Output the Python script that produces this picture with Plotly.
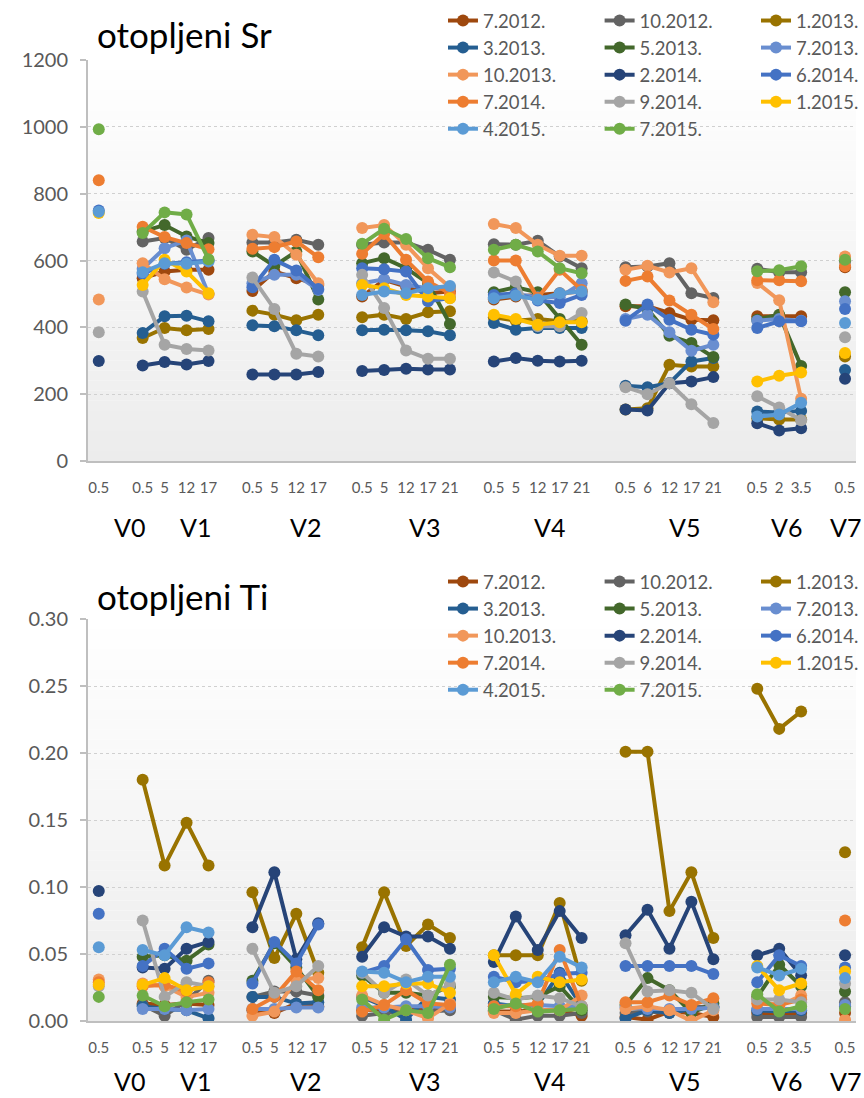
import plotly.graph_objects as go

# ---- categories -------------------------------------------------------------
GROUPS = ["V0", "V1", "V2", "V3", "V4", "V5", "V6", "V7"]
DEPTHS = [
    ["0.5"],
    ["0.5", "5", "12", "17"],
    ["0.5", "5", "12", "17"],
    ["0.5", "5", "12", "17", "21"],
    ["0.5", "5", "12", "17", "21"],
    ["0.5", "6", "12", "17", "21"],
    ["0.5", "2", "3.5"],
    ["0.5"],
]

SERIES = ["7.2012.", "10.2012.", "1.2013.", "3.2013.", "5.2013.", "7.2013.",
          "10.2013.", "2.2014.", "6.2014.", "7.2014.", "9.2014.", "1.2015.",
          "4.2015.", "7.2015."]
COLORS = ["#9E480E", "#636363", "#997300", "#255E91", "#43682B", "#698ED0",
          "#F1975A", "#264478", "#4472C4", "#ED7D31", "#A5A5A5", "#FFC000",
          "#5B9BD5", "#70AD47"]

N = None

# ---- dissolved Sr, one list per sampling campaign (grouped V0..V7) ----------
sr_2012_07 = [[N], [547, 567, 572, 572], [509, 567, 547, 527], [492, 542, 522, 502, 507],
              [483, 492, 497, 502, 507], [463, 463, 443, 423, 421], [433, 433, 433], [580]]
sr_2012_10 = [[N], [657, 667, 632, 667], [654, 654, 662, 647], [647, 654, 654, 632, 602],
              [649, 647, 659, 612, 577], [580, 582, 592, 502, 488], [575, 565, 565], [598]]
sr_2013_01 = [[N], [368, 398, 391, 395], [450, 438, 421, 438], [430, 438, 425, 445, 448],
              [430, 420, 425, 418, 418], [154, 158, 288, 283, 283], [128, 124, 124], [313]]
sr_2013_03 = [[N], [383, 433, 435, 418], [406, 403, 391, 376], [391, 393, 391, 388, 376],
              [413, 393, 398, 398, 398], [225, 221, 233, 298, 308], [148, 145, 150], [272]]
sr_2013_05 = [[N], [687, 706, 672, 652], [627, 584, 627, 483], [592, 607, 577, 532, 410],
              [505, 520, 505, 425, 348], [468, 455, 375, 353, 311], [423, 438, 284], [505]]
sr_2013_07 = [[N], [575, 637, 660, 500], [532, 557, 557, 512], [532, 544, 527, 517, 517],
              [490, 500, 490, 490, 532], [425, 438, 385, 330, 348], [420, 425, 420], [478]]
sr_2013_10 = [[483], [592, 544, 519, 498], [677, 670, 617, 532], [697, 706, 647, 577, 520],
              [709, 697, 647, 614, 614], [572, 584, 564, 577, 475], [533, 481, 186], [612]]
sr_2014_02 = [[299], [286, 296, 289, 299], [259, 259, 259, 266], [269, 272, 276, 274, 274],
              [298, 308, 300, 298, 300], [154, 151, 233, 238, 251], [113, 91, 98], [246]]
sr_2014_06 = [[750], [560, 590, 595, 600], [520, 602, 570, 515], [577, 574, 567, 478, 488],
              [497, 502, 480, 473, 497], [420, 468, 423, 393, 378], [398, 418, 418], [455]]
sr_2014_07 = [[840], [701, 670, 652, 634], [635, 640, 657, 610], [620, 679, 602, 537, 502],
              [600, 600, 488, 572, 512], [539, 552, 480, 438, 395], [541, 541, 538], [583]]
sr_2014_09 = [[385], [507, 348, 335, 331], [549, 455, 321, 313], [557, 458, 331, 306, 306],
              [564, 537, 403, 403, 443], [221, 200, 233, 170, 114], [194, 160, 122], [370]]
sr_2015_01 = [[742], [527, 602, 567, 502], [N, N, N, N], [527, 517, 497, 492, 487],
              [438, 425, 408, 415, 415], [N, N, N, N, N], [238, 255, 265], [323]]
sr_2015_04 = [[746], [565, 592, 590, 597], [N, N, N, N], [497, 507, 502, 517, 524],
              [487, 495, 483, 502, 507], [N, N, N, N, N], [133, 139, 174], [413]]
sr_2015_07 = [[993], [682, 744, 738, 604], [N, N, N, N], [650, 695, 664, 607, 580],
              [632, 647, 627, 577, 562], [N, N, N, N, N], [568, 571, 583], [602]]

# ---- dissolved Ti -----------------------------------------------------------
ti_2012_07 = [[N], [.013, .012, .013, .012], [.008, .006, .013, .011], [.008, .009, .009, .009, .009],
              [.007, .007, .008, .008, .004], [.003, .001, .007, .006, .003], [.006, .006, .006], [.006]]
ti_2012_10 = [[N], [.012, .004, .015, .030], [.018, .022, .022, .019], [.004, .006, .007, .007, .008],
              [.008, .001, .004, .004, .006], [.006, .007, .006, .010, .011], [.003, .003, .003], [.014]]
ti_2013_01 = [[N], [.180, .116, .148, .116], [.096, .047, .080, .036], [.055, .096, .056, .072, .062],
              [.049, .049, .049, .088, .030], [.201, .201, .082, .111, .062], [.248, .218, .231], [.126]]
ti_2013_03 = [[N], [.011, .009, .008, .002], [.018, .018, .013, .014], [.018, .011, .001, .018, .016],
              [.013, .011, .012, .036, .011], [.002, .008, .006, .009, .010], [.008, .007, .008], [.011]]
ti_2013_05 = [[N], [.048, .049, .045, .057], [.030, .058, .040, .018], [.034, .021, .021, .019, .026],
              [.018, .017, .018, .026, .008], [.012, .032, .023, .006, .013], [.018, .042, .026], [.022]]
ti_2013_07 = [[N], [.009, .009, .008, .009], [.009, .009, .010, .010], [.010, .010, .011, .011, .010],
              [.011, .012, .012, .011, .010], [.010, .009, .009, .009, .010], [.009, .009, .009], [.012]]
ti_2013_10 = [[.031], [.028, .026, .018, .021], [.004, .007, .031, .032], [.019, .012, .008, .002, .013],
              [.006, .006, .008, .008, .019], [.009, .011, .008, .000, .008], [.016, .011, .019], [.001]]
ti_2014_02 = [[.097], [.040, .039, .054, .059], [.070, .111, .046, .073], [.048, .070, .063, .063, .054],
              [.044, .078, .053, .082, .062], [.064, .083, .054, .089, .046], [.049, .054, .034], [.049]]
ti_2014_06 = [[.080], [.041, .054, .039, .043], [.028, .059, .043, .072], [.036, .041, .061, .038, .039],
              [.033, .029, .030, .035, .036], [.041, .041, .041, .041, .035], [.029, .049, .041], [.040]]
ti_2014_07 = [[.029], [.026, .027, .022, .029], [.009, .018, .037, .023], [.007, .012, .023, .013, .012],
              [.011, .011, .013, .053, .011], [.014, .014, .019, .012, .017], [.013, .012, .016], [.075]]
ti_2014_09 = [[.026], [.075, .018, .029, .026], [.054, .021, .026, .041], [.036, .021, .031, .019, .027],
              [.021, .016, .019, .017, .011], [.058, .022, .023, .021, .009], [.016, .016, .014], [.028]]
ti_2015_01 = [[.027], [.027, .032, .023, .026], [N, N, N, N], [.026, .026, .028, .028, .021],
              [.049, .020, .033, .029, .031], [N, N, N, N, N], [.041, .023, .028], [.037]]
ti_2015_04 = [[.055], [.053, .049, .070, .066], [N, N, N, N], [.037, .036, .029, .033, .033],
              [.029, .033, .029, .048, .040], [N, N, N, N, N], [.040, .034, .039], [.032]]
ti_2015_07 = [[.018], [.019, .011, .014, .016], [N, N, N, N], [.016, .001, .008, .006, .042],
              [.009, .013, .007, .008, .009], [N, N, N, N, N], [.020, .007, .011], [.009]]

SR = [sr_2012_07, sr_2012_10, sr_2013_01, sr_2013_03, sr_2013_05, sr_2013_07, sr_2013_10,
      sr_2014_02, sr_2014_06, sr_2014_07, sr_2014_09, sr_2015_01, sr_2015_04, sr_2015_07]
TI = [ti_2012_07, ti_2012_10, ti_2013_01, ti_2013_03, ti_2013_05, ti_2013_07, ti_2013_10,
      ti_2014_02, ti_2014_06, ti_2014_07, ti_2014_09, ti_2015_01, ti_2015_04, ti_2015_07]

# ---- category slots: one empty slot between sites ---------------------------
slots = []
s = 0
for deps in DEPTHS:
    slots.append([s + k for k in range(len(deps))])
    s += len(deps) + 1
tickvals = [v for g in slots for v in g]
ticktext = [d for g in DEPTHS for d in g]
x_range = [-0.5, s - 1.5]

# site labels sit a bit right of each group's first depth
GROUP_LABEL_X = [1.4, 4.4, 9.4, 14.85, 20.55, 26.7, 31.35, 34.0]


def series_xy(groups):
    xs, ys = [], []
    for gx, gy in zip(slots, groups):
        xs += gx + [None]
        ys += list(gy) + [None]
    return xs, ys


FONT = "Lato"
W, H = 864, 1098
PLOT_L, PLOT_R = 88, 858
PANELS = [(60, 461), (619, 1021)]  # top/bottom pixel rows of each plot area


def ydom(top, bot):
    return [1 - bot / H, 1 - top / H]


fig = go.Figure()

legend_cols_x = [444, 601, 758]
legend_top = [2, 563]

for p, (data, yax, xax) in enumerate([(SR, "y", "x"), (TI, "y2", "x2")]):
    for i, name in enumerate(SERIES):
        xs, ys = series_xy(data[i])
        leg = "legend" if p * 3 + i % 3 == 0 else f"legend{p * 3 + i % 3 + 1}"
        fig.add_trace(go.Scatter(
            x=xs, y=ys, name=name, mode="lines+markers",
            line=dict(color=COLORS[i], width=4),
            marker=dict(color=COLORS[i], size=12),
            connectgaps=False, xaxis=xax, yaxis=yax,
            legend=leg, legendgroup=f"{name}-{p}",
            hoverinfo="x+y+name",
        ))

axis_common = dict(
    showline=True, linecolor="#BFBFBF", linewidth=1.5,
    zeroline=False, automargin=False,
)

layout = dict(
    width=W, height=H, autosize=False,
    margin=dict(l=0, r=0, t=0, b=0),
    paper_bgcolor="white", plot_bgcolor="rgba(0,0,0,0)",
    font=dict(family=FONT, color="#595959"),
    showlegend=True,
)

for p, (top, bot) in enumerate(PANELS):
    sx = "" if p == 0 else "2"
    layout[f"xaxis{sx}"] = dict(
        axis_common, domain=[PLOT_L / W, PLOT_R / W], range=x_range,
        anchor=f"y{sx}", tickmode="array", tickvals=tickvals, ticktext=ticktext,
        showgrid=False, ticks="", tickfont=dict(family=FONT, size=15, color="#595959"),
        ticklabelstandoff=12,
    )
    ydict = dict(
        axis_common, domain=ydom(top, bot), anchor=f"x{sx}",
        showgrid=True, gridcolor="#D0D0D0", griddash="dot", gridwidth=1,
        ticks="outside", ticklen=6, tickcolor="#BFBFBF", tickwidth=1.5,
        tickfont=dict(family=FONT, size=20, color="#595959"),
        ticklabelstandoff=8,
    )
    if p == 0:
        ydict.update(range=[0, 1200], dtick=200, tick0=0)
    else:
        ydict.update(range=[0, 0.30], dtick=0.05, tick0=0, tickformat=".2f")
    layout[f"yaxis{sx}"] = ydict

    for c in range(3):
        key = "legend" if p * 3 + c == 0 else f"legend{p * 3 + c + 1}"
        layout[key] = dict(
            x=legend_cols_x[c] / W, xanchor="left",
            y=1 - legend_top[p] / H, yanchor="top",
            orientation="v", bgcolor="rgba(0,0,0,0)", borderwidth=0,
            font=dict(family=FONT, size=18.5, color="#595959"),
            tracegroupgap=0, itemwidth=30,
        )

fig.update_layout(**layout)

# soft vertical gradient behind each plot area
shapes = []
NB = 40
for p, (top, bot) in enumerate(PANELS):
    sx = "" if p == 0 else "2"
    for b in range(NB):
        t = (b + 0.5) / NB
        v = round(255 - (255 - 236) * t)
        shapes.append(dict(
            type="rect", xref=f"x{sx} domain", yref=f"y{sx} domain",
            x0=0, x1=1, y0=1 - b / NB, y1=1 - (b + 1) / NB,
            fillcolor=f"rgb({v},{v},{v})", line=dict(width=0), layer="below",
        ))
fig.update_layout(shapes=shapes)

annotations = []
titles = ["otopljeni Sr", "otopljeni Ti"]
title_y = [34, 596]
group_y = [527, 1081]
for p in range(2):
    sx = "" if p == 0 else "2"
    annotations.append(dict(
        text=titles[p], xref="paper", yref="paper", x=95 / W, y=1 - title_y[p] / H,
        xanchor="left", yanchor="middle", showarrow=False,
        font=dict(family=FONT, size=35, color="black"),
    ))
    for g, gx in zip(GROUPS, GROUP_LABEL_X):
        annotations.append(dict(
            text=g, xref=f"x{sx}", yref="paper", x=gx, y=1 - group_y[p] / H,
            xanchor="center", yanchor="middle", showarrow=False,
            font=dict(family=FONT, size=25, color="black"),
        ))
fig.update_layout(annotations=annotations)

fig.write_html("out.html")
